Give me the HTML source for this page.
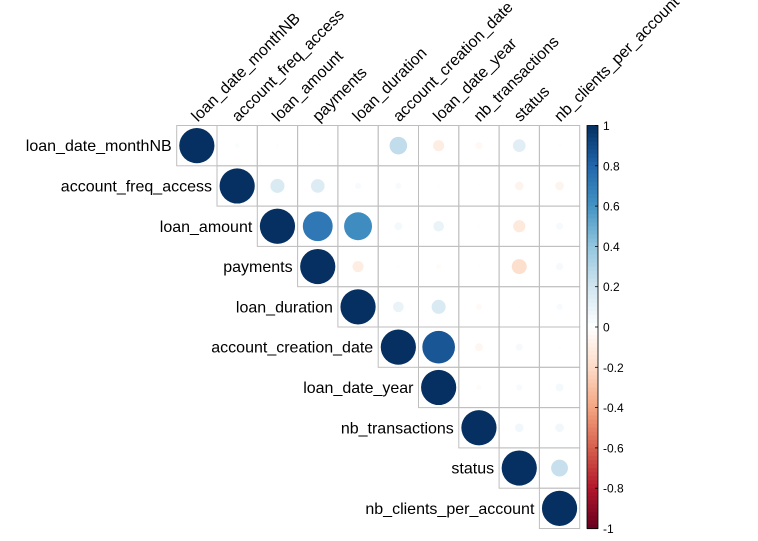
<!DOCTYPE html>
<html><head><meta charset="utf-8"><style>
html,body{margin:0;padding:0;background:#fff;}
svg{display:block;font-family:"Liberation Sans",Arial,sans-serif;}
</style></head><body>
<svg id="c" width="758" height="541"></svg>
<script>
const labels=["loan_date_monthNB","account_freq_access","loan_amount","payments","loan_duration","account_creation_date","loan_date_year","nb_transactions","status","nb_clients_per_account"];
const row0=[1,0.02,0.01,0.005,0.002,0.25,-0.1,-0.04,0.13,0.01];
const row1=[1,0.16,0.15,0.03,0.03,0.01,0.005,-0.06,-0.06];
const row2=[1,0.72,0.63,0.05,0.09,0.01,-0.12,0.04];
const row3=[1,-0.1,0.01,-0.02,0.005,-0.18,0.04];
const row4=[1,0.09,0.16,-0.03,0.005,0.03];
const row5=[1,0.86,-0.05,0.04,0.01];
const row6=[1,-0.02,0.03,0.05];
const row7=[1,0.06,0.06];
const row8=[1,0.23];
const row9=[1];
const rows=[row0,row1,row2,row3,row4,row5,row6,row7,row8,row9];
const legendTicks=[1,0.8,0.6,0.4,0.2,0,-0.2,-0.4,-0.6,-0.8,-1];
const NS="http://www.w3.org/2000/svg";
const svg=document.getElementById('c');
const X0=176.7,Y0=125.5,CW=40.3,N=labels.length,RMAX=17.6;
const xc=j=>X0+CW*j+CW/2, yc=i=>Y0+CW*i+CW/2;
const pal=["#67001F","#B2182B","#D6604D","#F4A582","#FDDBC7","#FFFFFF","#D1E5F0","#92C5DE","#4393C3","#2166AC","#053061"];
function hex(h){return [1,3,5].map(k=>parseInt(h.substr(k,2),16));}
function col(v){const t=(v+1)/2*(pal.length-1);const k=Math.min(Math.floor(t),pal.length-2);const f=t-k;
const a=hex(pal[k]),b=hex(pal[k+1]);return `rgb(${a.map((x,i)=>Math.round(x+(b[i]-x)*f)).join(',')})`;}
function el(t,a){const e=document.createElementNS(NS,t);for(const k in a)e.setAttribute(k,a[k]);svg.appendChild(e);return e;}
for(let i=0;i<N;i++){for(let j=i;j<N;j++){
 const r=el('rect',{x:X0+CW*j,y:Y0+CW*i,width:CW,height:CW,fill:'none',stroke:'#bebebe','stroke-width':1});
 
 
}}
rows.forEach((row,i)=>row.forEach((v,k)=>{const j=i+k;
 const c=el('circle',{cx:xc(j),cy:yc(i),r:RMAX*Math.sqrt(Math.abs(v)),fill:col(v)});
 
 
}));
labels.forEach((l,i)=>{
 const t=el('text',{x:X0+CW*i-5,y:yc(i)+5.5,'text-anchor':'end','font-size':16,fill:'#000'});t.textContent=l;
 
 
 const u=el('text',{x:0,y:0,'font-size':16,fill:'#000',transform:`translate(${xc(i)+1},${Y0-3}) rotate(-45)`});u.textContent=l;
 
 
});
const BX=587,BW=11,BT=Y0,BB=Y0+CW*N,NB=100;
for(let k=0;k<NB;k++){const v=1-2*(k+0.5)/NB;
 const r=el('rect',{x:BX,y:BT+(BB-BT)*k/NB,width:BW,height:(BB-BT)/NB+0.6,fill:col(v)});
 
 
}
const fr=el('rect',{x:BX,y:BT,width:BW,height:BB-BT,fill:'none',stroke:'#000','stroke-width':0.8});


legendTicks.forEach(v=>{const y=BT+(1-v)/2*(BB-BT);
 el('line',{x1:BX+BW-3,x2:BX+BW,y1:y,y2:y,stroke:'#000','stroke-width':0.8});
 const t=el('text',{x:BX+BW+5,y:y+4.5,'font-size':12,fill:'#000'});t.textContent=String(v);
 
 
});
</script>
</body></html>
